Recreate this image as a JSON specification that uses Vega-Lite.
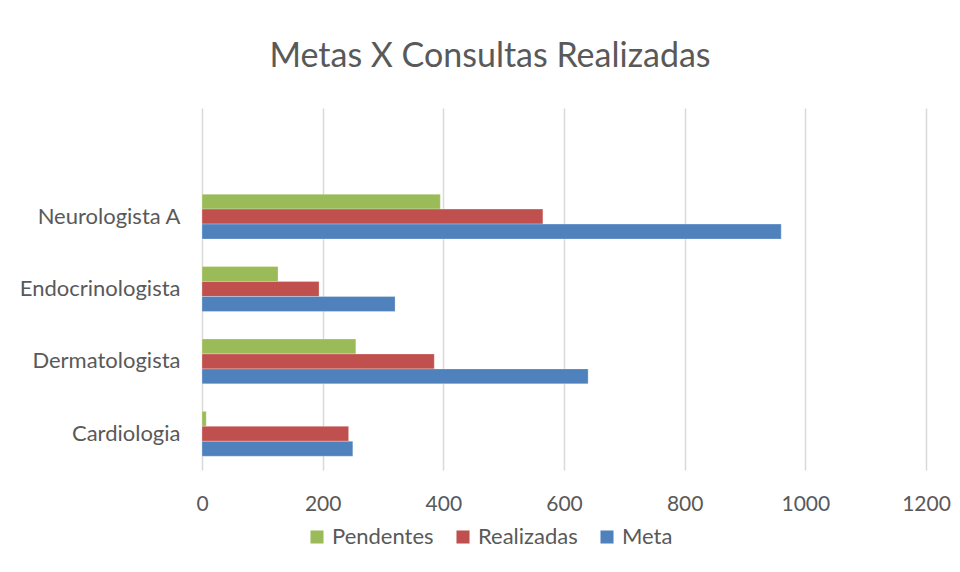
{
  "$schema": "https://vega.github.io/schema/vega-lite/v6.json",
  "width": 724,
  "height": 362,
  "autosize": {"type": "none"},
  "padding": {"left": 202, "top": 108, "right": 34, "bottom": 102},
  "background": "white",
  "title": {
    "text": "Metas X Consultas Realizadas",
    "font": "Lato",
    "fontSize": 34,
    "fontWeight": "normal",
    "color": "#595959",
    "anchor": "middle",
    "frame": "group",
    "dx": -74,
    "offset": 34
  },
  "data": {
    "values": [
      {"especialidade": "Neurologista A", "serie": "Pendentes", "valor": 395},
      {"especialidade": "Neurologista A", "serie": "Realizadas", "valor": 565},
      {"especialidade": "Neurologista A", "serie": "Meta", "valor": 960},
      {"especialidade": "Endocrinologista", "serie": "Pendentes", "valor": 126},
      {"especialidade": "Endocrinologista", "serie": "Realizadas", "valor": 194},
      {"especialidade": "Endocrinologista", "serie": "Meta", "valor": 320},
      {"especialidade": "Dermatologista", "serie": "Pendentes", "valor": 255},
      {"especialidade": "Dermatologista", "serie": "Realizadas", "valor": 385},
      {"especialidade": "Dermatologista", "serie": "Meta", "valor": 640},
      {"especialidade": "Cardiologia", "serie": "Pendentes", "valor": 7},
      {"especialidade": "Cardiologia", "serie": "Realizadas", "valor": 243},
      {"especialidade": "Cardiologia", "serie": "Meta", "valor": 250}
    ]
  },
  "mark": {"type": "bar", "stroke": "white", "strokeOpacity": 0.35, "strokeWidth": 0.8},
  "encoding": {
    "y": {
      "field": "especialidade",
      "type": "nominal",
      "scale": {
        "domain": [" ", "Neurologista A", "Endocrinologista", "Dermatologista", "Cardiologia"],
        "paddingInner": 0.38,
        "paddingOuter": 0.19
      },
      "axis": {
        "title": null,
        "domain": false,
        "ticks": false,
        "labelFont": "Lato",
        "labelFontSize": 22,
        "labelColor": "#595959",
        "labelPadding": 22
      }
    },
    "yOffset": {
      "field": "serie",
      "type": "nominal",
      "scale": {"domain": ["Pendentes", "Realizadas", "Meta"], "paddingInner": 0, "paddingOuter": 0}
    },
    "x": {
      "field": "valor",
      "type": "quantitative",
      "scale": {"domain": [0, 1200], "nice": false},
      "axis": {
        "title": null,
        "values": [0, 200, 400, 600, 800, 1000, 1200],
        "format": "d",
        "domain": false,
        "ticks": false,
        "grid": true,
        "gridColor": "#d9d9d9",
        "gridWidth": 1.5,
        "labelFont": "Lato",
        "labelFontSize": 21,
        "labelColor": "#595959",
        "labelPadding": 23,
        "labelFlush": false
      }
    },
    "color": {
      "field": "serie",
      "type": "nominal",
      "scale": {
        "domain": ["Pendentes", "Realizadas", "Meta"],
        "range": ["#9BBB59", "#C0504D", "#4F81BD"]
      },
      "legend": {
        "title": null,
        "orient": "none",
        "direction": "horizontal",
        "legendX": 104,
        "legendY": 418,
        "symbolType": "square",
        "symbolSize": 170,
        "symbolStrokeWidth": 0,
        "labelFont": "Lato",
        "labelFontSize": 22,
        "labelColor": "#595959",
        "labelOffset": 4,
        "columnPadding": 18
      }
    }
  },
  "config": {"view": {"stroke": null}}
}
